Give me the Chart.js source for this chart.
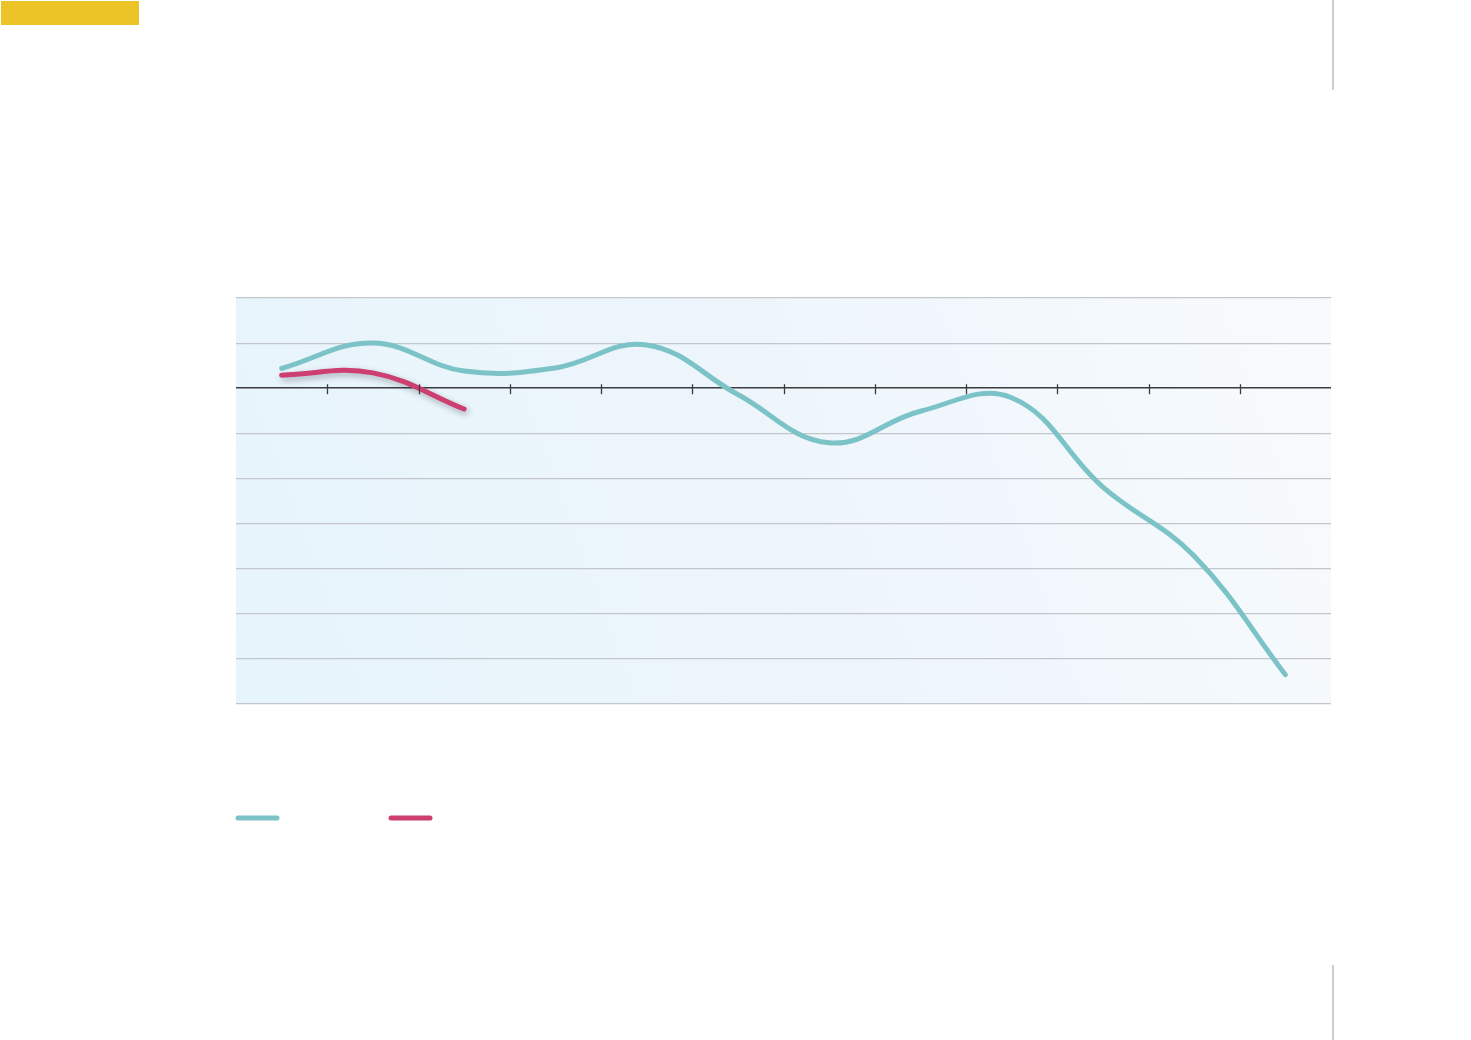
<!DOCTYPE html>
<html>
<head>
<meta charset="utf-8">
<script src="https://cdn.jsdelivr.net/npm/chart.js@4.4.1/dist/chart.umd.min.js"></script>
<style>
  html, body { margin: 0; padding: 0; background: #ffffff; }
  #wrap { position: relative; width: 1471px; height: 1040px; }
  #tag { position: absolute; left: 1px; top: 1px; width: 138px; height: 24px; background: #ecc428; }
</style>
</head>
<body>
<div id="wrap">
  <canvas id="c" width="1471" height="1040"></canvas>
  <div id="tag"></div>
</div>
<script>
const categories = ['1', '2', '3', '4', '5', '6', '7', '8', '9', '10', '11', '12'];
const seriesTeal = [0.44, 1.00, 0.38, 0.45, 0.96, -0.14, -1.21, -0.51, -0.21, -2.19, -3.72, -6.35];
const seriesRed = [0.29, 0.34, -0.46, null, null, null, null, null, null, null, null, null];
const yMin = -7;
const yMax = 2;
const yStep = 1;

const tealColor = '#7cc3c8';
const redColor = '#cc3f70';

const bgPlugin = {
  id: 'bg',
  beforeDraw(chart) {
    const { ctx, chartArea: a } = chart;
    const g = ctx.createLinearGradient(a.left, a.bottom, a.right, a.top);
    g.addColorStop(0, '#e6f4fb');
    g.addColorStop(0.6, '#eff6fc');
    g.addColorStop(1, '#f8fbfd');
    ctx.save();
    ctx.fillStyle = g;
    ctx.fillRect(a.left, a.top, a.right - a.left, a.bottom - a.top);
    ctx.restore();
  }
};

const shadowPlugin = {
  id: 'shadow',
  beforeDatasetDraw(chart, args) {
    const ctx = chart.ctx;
    ctx.save();
    if (args.index === 1) {
      ctx.shadowColor = 'rgba(40,40,60,0.35)';
      ctx.shadowBlur = 6;
      ctx.shadowOffsetX = 2;
      ctx.shadowOffsetY = 3;
    }
  },
  afterDatasetDraw(chart) {
    chart.ctx.restore();
  }
};

const decoPlugin = {
  id: 'deco',
  afterDatasetsDraw(chart) {
    // tick marks on zero line at category boundaries
    const { ctx } = chart;
    const xs = chart.scales.x, ys = chart.scales.y;
    const y0 = ys.getPixelForValue(0);
    ctx.save();
    ctx.strokeStyle = '#3a3d40';
    ctx.lineWidth = 1.3;
    for (let i = 0; i < categories.length - 1; i++) {
      const x = Math.round((xs.getPixelForValue(i) + xs.getPixelForValue(i + 1)) / 2) + 0.5;
      ctx.beginPath();
      ctx.moveTo(x, y0 - 4);
      ctx.lineTo(x, y0 + 6);
      ctx.stroke();
    }
    ctx.restore();
  },
  afterDraw(chart) {
    const { ctx } = chart;
    ctx.save();
    // legend swatches
    const ds = chart.data.datasets;
    const lx = [236, 389];
    ctx.lineWidth = 5;
    ctx.lineCap = 'round';
    ds.forEach((d, i) => {
      ctx.strokeStyle = d.borderColor;
      ctx.beginPath();
      ctx.moveTo(lx[i] + 2, 818);
      ctx.lineTo(lx[i] + 41, 818);
      ctx.stroke();
    });
    // page rules on the right
    ctx.lineCap = 'butt';
    ctx.strokeStyle = '#b9bdc5';
    ctx.lineWidth = 1.5;
    ctx.beginPath();
    ctx.moveTo(1333, 0); ctx.lineTo(1333, 90);
    ctx.moveTo(1333, 965); ctx.lineTo(1333, 1040);
    ctx.stroke();
    ctx.restore();
  }
};

new Chart(document.getElementById('c'), {
  type: 'line',
  data: {
    labels: categories,
    datasets: [
      { label: 'A', data: seriesTeal, borderColor: tealColor, borderWidth: 5, tension: 0.4, pointRadius: 0, borderCapStyle: 'round', fill: false },
      { label: 'B', data: seriesRed, borderColor: redColor, borderWidth: 5, tension: 0.4, pointRadius: 0, borderCapStyle: 'round', fill: false, spanGaps: false }
    ]
  },
  options: {
    responsive: false,
    animation: false,
    devicePixelRatio: 1,
    layout: { padding: { left: 236, right: 140, top: 298, bottom: 336 } },
    plugins: { legend: { display: false }, tooltip: { enabled: false } },
    scales: {
      x: {
        type: 'category',
        offset: true,
        display: false,
        grid: { display: false }
      },
      y: {
        min: yMin, max: yMax,
        ticks: { display: false, stepSize: yStep },
        border: { display: false },
        grid: {
          drawTicks: false,
          color: (c) => c.tick && c.tick.value === 0 ? '#3a3d40' : '#c3c7cb',
          lineWidth: (c) => c.tick && c.tick.value === 0 ? 1.6 : 1.2
        }
      }
    }
  },
  plugins: [bgPlugin, shadowPlugin, decoPlugin]
});
</script>
</body>
</html>
